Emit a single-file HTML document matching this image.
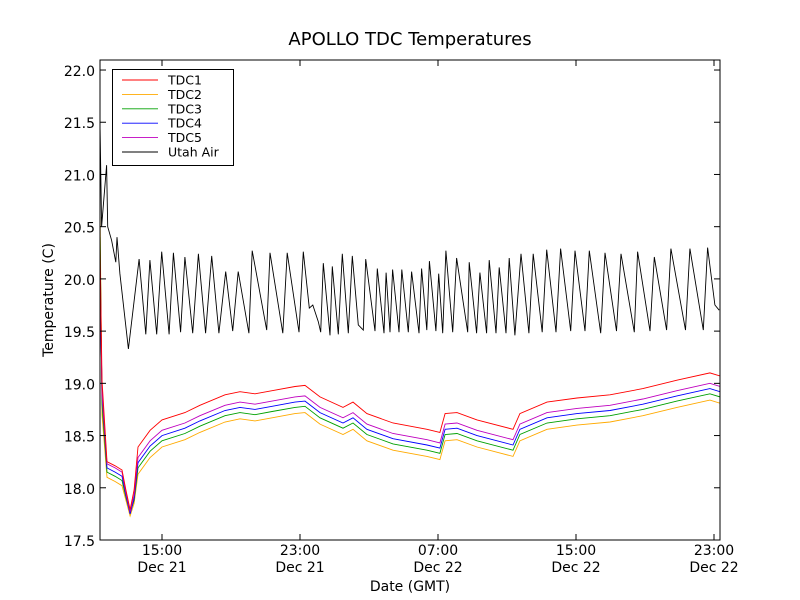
<!DOCTYPE html>
<html><head><meta charset="utf-8"><style>
body{margin:0;background:#fff;}
svg{display:block;font-family:"DejaVu Sans","Liberation Sans",sans-serif;}
</style></head><body>
<svg id="chart" width="800" height="600" viewBox="0 0 800 600">
<rect x="0" y="0" width="800" height="600" fill="#fff"/>
<defs><clipPath id="clip"><rect x="100" y="60" width="620" height="480"/></clipPath></defs>
<text x="410" y="45" font-size="18" text-anchor="middle">APOLLO TDC Temperatures</text>
<text x="410" y="591" font-size="14" text-anchor="middle">Date (GMT)</text>
<text transform="translate(53,300) rotate(-90)" font-size="14" text-anchor="middle">Temperature (C)</text>
<g id="series" clip-path="url(#clip)"></g>
<rect x="100" y="60" width="620" height="480" fill="none" stroke="#000" stroke-width="1"/>
<g id="axes"></g>
<g id="legend"></g>
</svg>
<script>
const xTicks = [15, 23, 31, 39, 47];
const xTickTimes = ["15:00", "23:00", "07:00", "15:00", "23:00"];
const xTickDates = ["Dec 21", "Dec 21", "Dec 22", "Dec 22", "Dec 22"];
const yTicks = [17.5, 18.0, 18.5, 19.0, 19.5, 20.0, 20.5, 21.0, 21.5, 22.0];

const tdcHours = [11.41,11.52,11.81,12.28,12.68,12.91,13.15,13.38,13.61,14.31,15.00,16.33,17.20,18.65,19.52,20.39,21.38,22.71,23.29,24.16,25.49,26.07,26.88,28.39,30.36,31.11,31.41,32.10,33.26,35.35,35.75,37.32,39.06,40.97,42.88,44.85,46.76,47.35];
const tdc1 = [20.28,19.03,18.25,18.21,18.17,17.98,17.79,17.98,18.39,18.55,18.65,18.72,18.79,18.89,18.92,18.90,18.93,18.97,18.98,18.87,18.77,18.82,18.71,18.62,18.56,18.53,18.71,18.72,18.65,18.56,18.71,18.82,18.86,18.89,18.95,19.03,19.10,19.07];
const tdc2 = [20.6,18.7,18.10,18.06,18.02,17.88,17.73,17.85,18.13,18.29,18.39,18.46,18.53,18.63,18.66,18.64,18.67,18.71,18.72,18.61,18.51,18.56,18.45,18.36,18.30,18.27,18.45,18.46,18.39,18.30,18.45,18.56,18.60,18.63,18.69,18.77,18.84,18.81];
const tdc3 = [20.4,18.8,18.15,18.11,18.07,17.91,17.76,17.88,18.19,18.35,18.45,18.52,18.59,18.69,18.72,18.70,18.73,18.77,18.78,18.67,18.57,18.62,18.51,18.42,18.36,18.33,18.51,18.52,18.45,18.36,18.51,18.62,18.66,18.69,18.75,18.83,18.90,18.87];
const tdc4 = [20.1,18.9,18.19,18.15,18.11,17.93,17.75,17.90,18.24,18.40,18.50,18.57,18.64,18.74,18.77,18.75,18.78,18.82,18.83,18.72,18.62,18.67,18.56,18.47,18.41,18.38,18.56,18.57,18.50,18.41,18.56,18.67,18.71,18.74,18.80,18.88,18.95,18.92];
const tdc5 = [20.0,18.9,18.23,18.19,18.15,17.95,17.77,17.93,18.29,18.45,18.55,18.62,18.69,18.79,18.82,18.80,18.83,18.87,18.88,18.77,18.67,18.72,18.61,18.52,18.46,18.43,18.61,18.62,18.55,18.46,18.61,18.72,18.76,18.79,18.85,18.93,19.00,18.97];

const airHours = [11.41,11.50,11.79,11.85,12.08,12.32,12.39,12.56,13.05,13.67,14.06,14.30,14.69,14.98,15.41,15.66,16.08,16.33,16.78,17.11,17.53,17.88,18.30,18.69,19.10,19.42,20.04,20.23,21.07,21.26,22.00,22.26,22.94,23.19,23.54,23.74,24.06,24.20,24.35,24.74,24.87,25.22,25.45,25.80,26.03,26.38,26.67,26.81,27.35,27.48,27.87,27.99,28.22,28.37,28.74,28.90,29.28,29.47,29.90,30.05,30.35,30.50,30.88,31.04,31.27,31.46,31.85,32.08,32.72,32.81,33.24,33.43,33.82,33.97,34.36,34.55,34.94,35.13,35.46,35.81,36.27,36.52,37.04,37.30,37.84,38.11,38.69,38.94,39.52,39.77,40.43,40.68,41.35,41.61,42.38,42.57,43.29,43.54,44.25,44.50,45.35,45.60,46.38,46.63,47.05,47.30];
const airTemp = [21.43,20.50,21.09,20.50,20.37,20.16,20.40,20.05,19.33,20.19,19.47,20.18,19.47,20.26,19.47,20.25,19.49,20.21,19.48,20.24,19.48,20.22,19.48,20.07,19.50,20.07,19.48,20.27,19.51,20.25,19.48,20.25,19.49,20.26,19.72,19.75,19.59,19.49,20.15,19.46,20.12,19.47,20.24,19.48,20.22,19.56,19.51,20.19,19.50,20.10,19.48,20.06,19.49,20.09,19.49,20.09,19.49,20.07,19.48,20.10,19.51,20.17,19.50,20.05,19.48,20.27,19.49,20.20,19.49,20.16,19.48,20.06,19.48,20.18,19.48,20.11,19.48,20.20,19.46,20.24,19.48,20.24,19.49,20.28,19.49,20.29,19.50,20.27,19.50,20.27,19.48,20.25,19.50,20.24,19.49,20.26,19.50,20.21,19.51,20.29,19.51,20.29,19.51,20.30,19.75,19.70];

const NS = "http://www.w3.org/2000/svg";
function xs(h){ return 162 + (h - 15) * 17.25; }
function ys(v){ return 540 - (v - 17.5) * 104.44; }
function mk(tag, attrs, parent){
  const e = document.createElementNS(NS, tag);
  for (const k in attrs) e.setAttribute(k, attrs[k]);
  parent.appendChild(e);
  return e;
}
const axes = document.getElementById('axes');
yTicks.forEach((v, i) => {
  const y = ys(v);
  const t1 = mk('line', {x1:100, x2:106, y1:y, y2:y, stroke:'#000'}, axes);
  
  
  const t2 = mk('line', {x1:714, x2:720, y1:y, y2:y, stroke:'#000'}, axes);
  
  
  const tx = mk('text', {x:95, y:y + 6, 'font-size':14, 'text-anchor':'end'}, axes);
  tx.textContent = v.toFixed(1);
  
  
});
xTicks.forEach((h, i) => {
  const x = xs(h);
  const t1 = mk('line', {x1:x, x2:x, y1:534, y2:540, stroke:'#000'}, axes);
  
  
  const t2 = mk('line', {x1:x, x2:x, y1:60, y2:66, stroke:'#000'}, axes);
  
  
  const a = mk('text', {x:x, y:555, 'font-size':14, 'text-anchor':'middle'}, axes);
  a.textContent = xTickTimes[i];
  
  
  const b = mk('text', {x:x, y:572, 'font-size':14, 'text-anchor':'middle'}, axes);
  b.textContent = xTickDates[i];
  
  
});

const series = document.getElementById('series');
function drawLine(hs, vs, color, name){
  const pts = hs.map((h, i) => xs(h).toFixed(1) + ',' + ys(vs[i]).toFixed(1)).join(' ');
  const p = mk('polyline', {points:pts, fill:'none', stroke:color, 'stroke-width':0.9}, series);
  
  
}
drawLine(airHours, airTemp, '#000', 'utah-air-line');
drawLine(tdcHours, tdc2, '#ffaa00', 'tdc2-line');
drawLine(tdcHours, tdc3, '#00a000', 'tdc3-line');
drawLine(tdcHours, tdc4, '#0000ff', 'tdc4-line');
drawLine(tdcHours, tdc5, '#bf00bf', 'tdc5-line');
drawLine(tdcHours, tdc1, '#ff0000', 'tdc1-line');

const legend = document.getElementById('legend');
const box = mk('rect', {x:112.5, y:69.5, width:121, height:96, fill:'#fff', stroke:'#000'}, legend);


const legNames = ["TDC1","TDC2","TDC3","TDC4","TDC5","Utah Air"];
const legColors = ['#ff0000','#ffaa00','#00a000','#0000ff','#bf00bf','#000'];
legNames.forEach((n, i) => {
  const y = 80 + i * 14.4;
  const l = mk('line', {x1:122, x2:158, y1:y, y2:y, stroke:legColors[i], 'stroke-width':0.9}, legend);
  
  
  const t = mk('text', {x:168, y:y + 4.5, 'font-size':12.5}, legend);
  t.textContent = n;
  
  
});
</script>
</body></html>
